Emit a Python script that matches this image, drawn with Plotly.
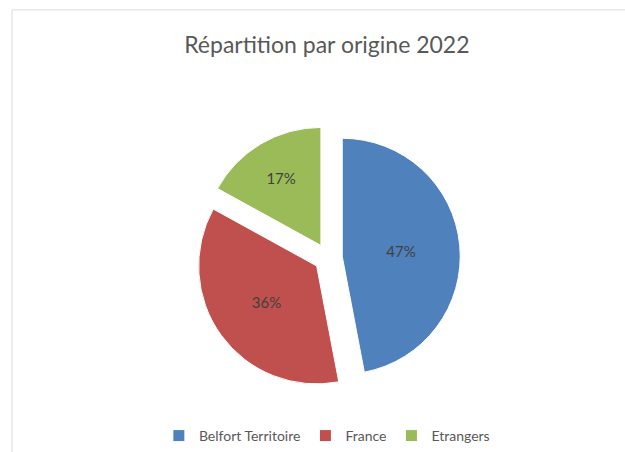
import plotly.graph_objects as go

categories = ["Belfort Territoire", "France", "Etrangers"]
values = [47, 36, 17]
colors = ["#4F81BD", "#C0504D", "#9BBB59"]

W, H = 625, 452

fig = go.Figure()
fig.add_trace(go.Pie(
    labels=categories,
    values=values,
    sort=False,
    direction="clockwise",
    rotation=0,
    pull=[0.12, 0.12, 0.12],
    marker=dict(colors=colors, line=dict(color="#FFFFFF", width=1)),
    texttemplate="%{percent:.0%}",
    textposition="inside",
    insidetextorientation="horizontal",
    textfont=dict(family="Lato, sans-serif", size=15, color="#404040"),
    domain=dict(x=[0.15, 0.9], y=[0.13, 0.72]),
    hoverinfo="label+percent",
))

fig.update_layout(
    width=W, height=H,
    margin=dict(l=0, r=0, t=0, b=0),
    paper_bgcolor="#FFFFFF",
    plot_bgcolor="#FFFFFF",
    title=dict(
        text="Répartition par origine 2022",
        x=0.523, xanchor="center",
        y=1 - 45 / H, yanchor="middle",
        font=dict(family="Lato, sans-serif", size=23, color="#595959"),
    ),
    legend=dict(
        orientation="h",
        x=0.523, xanchor="center",
        y=1 - 440 / H, yanchor="middle",
        font=dict(family="Lato, sans-serif", size=14, color="#595959"),
        itemwidth=30,
    ),
    shapes=[dict(
        type="rect", xref="paper", yref="paper",
        x0=12 / W, x1=1.05, y0=-0.05, y1=1 - 10 / H,
        line=dict(color="#D9D9D9", width=1),
        fillcolor="rgba(0,0,0,0)", layer="below",
    )],
)

fig.write_html("out.html", config={"displayModeBar": False})

with open("out.html", encoding="utf-8") as f:
    html = f.read()
html = html.replace("<head>", "<head><style>html,body{margin:0;padding:0;overflow:hidden;}</style>", 1)
with open("out.html", "w", encoding="utf-8") as f:
    f.write(html)
